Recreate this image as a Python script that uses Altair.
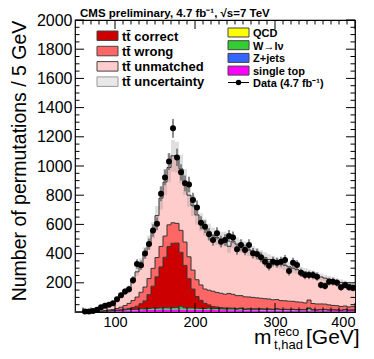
import altair as alt
import pandas as pd

# ---------------- data ----------------
bin_low = list(range(50, 400, 5))  # 70 bins of 5 GeV

single_top = [0, 0, 0, 1, 1, 2, 2, 3, 4,
              5, 6, 7, 8, 9, 10, 11, 12, 13, 14,
              15, 15, 16, 16, 16, 16, 16, 16, 16, 15, 15,
              15, 15, 14, 14, 14, 13, 13, 13, 12, 12, 12,
              12, 11, 11, 11, 11, 10, 10, 10, 10, 10, 10,
              9, 9, 9, 9, 9, 9, 8, 8, 8, 8, 8, 8, 8, 7, 7, 7, 7, 7]
z_jets = [0, 0, 0, 0, 0, 0, 1, 1, 1, 1,
          1, 2, 2, 2, 2, 2, 3, 2, 2, 3,
          2, 3, 3, 2, 3, 3, 2, 2, 3, 2,
          2, 2, 2, 3, 2, 2, 2, 1, 2, 2,
          2, 2, 1, 2, 2, 2, 1, 2, 2, 1,
          2, 1, 2, 2, 1, 2, 1, 1, 2, 1,
          1, 2, 1, 1, 1, 2, 1, 1, 1, 1]
w_jets = [0, 0, 0, 0, 1, 1, 1, 2, 2,
          2, 3, 3, 4, 4, 5, 5, 6, 6, 7, 8,
          8, 9, 10, 10, 11, 12, 20, 10, 9, 9, 8,
          8, 7, 9, 7, 8, 7, 6, 8, 7, 6, 9,
          6, 7, 5, 6, 8, 5, 6, 5, 7, 5, 6,
          5, 6, 4, 5, 5, 14, 5, 4, 5, 6, 4, 5, 4, 3, 6, 4, 5]
qcd = [0, 0, 0, 0, 0, 0, 0, 0, 0, 0,
       0, 0, 0, 1, 0, 0, 1, 0, 1, 1,
       1, 1, 1, 1, 1, 1, 1, 1, 1, 1,
       1, 0, 1, 1, 0, 1, 0, 1, 0, 1,
       0, 1, 0, 0, 1, 0, 0, 1, 0, 0,
       1, 0, 0, 0, 1, 0, 0, 0, 1, 0,
       0, 0, 1, 0, 0, 0, 0, 1, 0, 0]
tt_correct = [0, 0, 0, 0, 0, 0, 0, 1, 1, 1,
              2, 3, 5, 8, 14, 22, 35, 55, 95, 150,
              215, 280, 345, 420, 440, 440, 370, 290, 200, 130,
              80, 55, 35, 22, 14, 10, 8, 6, 5, 4,
              4, 3, 3, 3, 3, 3, 3, 3, 3, 3,
              3, 2, 2, 2, 2, 2, 2, 2, 2, 2,
              2, 2, 2, 2, 1, 2, 1, 2, 1, 1]
tt_wrong = [0, 0, 0, 1, 1, 2, 3, 4, 6, 8,
            12, 18, 25, 35, 48, 62, 78, 95, 110, 122,
            132, 140, 145, 148, 140, 135, 150, 160, 150, 130,
            115, 105, 98, 100, 105, 100, 98, 95, 100, 95,
            88, 85, 83, 80, 78, 75, 72, 70, 68, 65,
            62, 60, 58, 56, 54, 52, 50, 45, 55, 42,
            40, 38, 36, 34, 30, 28, 26, 24, 22, 24]
# top of the full stack (tt unmatched is the top layer)
mc_total = [0, 1, 2, 4, 8, 14, 24, 34, 45, 60,
            80, 105, 132, 165, 215, 275, 335, 405, 475, 560,
            660, 780, 890, 990, 1070, 1060, 980, 890, 800, 730,
            665, 615, 580, 550, 525, 510, 500, 500, 450, 485,
            465, 450, 440, 425, 410, 398, 385, 372, 360, 350,
            340, 330, 320, 310, 300, 290, 282, 274, 266, 258,
            250, 240, 232, 225, 218, 210, 203, 196, 188, 182]
tt_uncertainty = 0.10  # relative half-width of the hatched band

data_counts = [0, 0, 3, 3, 6, 15, 33, 42, 50, 60,
               88, 115, 140, 155, 218, 328, 320, 400, 465, 558,
               605, 810, 922, 1030, 1258, 1059, 957, 881, 874, 767,
               715, 612, 584, 532, 493, 539, 482, 493, 521, 511,
               429, 459, 425, 459, 402, 397, 375, 345, 317, 345,
               338, 345, 356, 281, 338, 322, 269, 253, 253, 253,
               242, 185, 178, 208, 208, 201, 169, 185, 169, 166]

x_labels = [100, 200, 300, 400]
x_minor = [60, 70, 80, 90, 110, 120, 130, 140, 150, 160, 170, 180, 190,
           210, 220, 230, 240, 250, 260, 270, 280, 290,
           310, 320, 330, 340, 350, 360, 370, 380, 390]
y_labels = [200, 400, 600, 800, 1000, 1200, 1400, 1600, 1800, 2000]
y_minor = [50, 100, 150, 250, 300, 350, 450, 500, 550, 650, 700, 750,
           850, 900, 950, 1050, 1100, 1150, 1250, 1300, 1350, 1450, 1500, 1550,
           1650, 1700, 1750, 1850, 1900, 1950]

FONT = "Liberation Sans"
W, H = 280, 292

comp_names = ["single top", "Z+jets", "W", "QCD", "tt correct", "tt wrong", "tt unmatched"]
comp_colors = ["#ff00ff", "#3366ff", "#33cc33", "#ffff00", "#cc0000", "#ff6666", "#ffcccc"]

# ---------------- build tables ----------------
n = len(bin_low)
rects, steps = [], []
cum = [0] * n
for name, vals in zip(comp_names[:-1], [single_top, z_jets, w_jets, qcd, tt_correct, tt_wrong]):
    new = [cum[i] + vals[i] for i in range(n)]
    for i in range(n):
        rects.append(dict(x0=bin_low[i], x1=bin_low[i] + 5, lo=cum[i], hi=new[i], comp=name))
    cum = new
    if name in ("QCD", "tt correct", "tt wrong"):
        for i in range(n):
            steps.append(dict(level=name, x=bin_low[i], y=cum[i]))
        steps.append(dict(level=name, x=400, y=cum[-1]))
top = [max(mc_total[i], cum[i]) for i in range(n)]
for i in range(n):
    rects.append(dict(x0=bin_low[i], x1=bin_low[i] + 5, lo=cum[i], hi=top[i], comp="tt unmatched"))
for i in range(n):
    steps.append(dict(level="total", x=bin_low[i], y=top[i]))
steps.append(dict(level="total", x=400, y=top[-1]))

rect_df = pd.DataFrame(rects)
step_df = pd.DataFrame(steps)
band_df = pd.DataFrame(dict(x0=bin_low, x1=[b + 5 for b in bin_low], t=top))
band_df = band_df[band_df.t > 0]
data_df = pd.DataFrame(dict(x=[b + 2.5 for b in bin_low], v=data_counts))
data_df = data_df[data_df.v > 0]

# ---------------- scales / axes ----------------
xs = alt.Scale(domain=[50, 400], nice=False, zero=False)
ys = alt.Scale(domain=[0, 2000], nice=False, zero=False)
xaxis = alt.Axis(values=x_labels, title=None, ticks=False, domain=False, grid=False, format="d",
                 labelFont=FONT, labelFontSize=14.5, labelPadding=3, labelColor="black")
yaxis = alt.Axis(values=y_labels, title=None, ticks=False, domain=False, grid=False, format="d",
                 labelFont=FONT, labelFontSize=16, labelPadding=3, labelColor="black")


def X(f):
    return alt.X(f, type="quantitative", scale=xs, axis=xaxis)


def Y(f):
    return alt.Y(f, type="quantitative", scale=ys, axis=yaxis)


layers = []
layers.append(alt.Chart(rect_df).mark_rect().encode(
    x=X("x0"), x2="x1", y=Y("lo"), y2="hi",
    color=alt.Color("comp:N", scale=alt.Scale(domain=comp_names, range=comp_colors), legend=None)))
layers.append(alt.Chart(band_df).transform_calculate(
    lo=f"datum.t*(1-{tt_uncertainty})", hi=f"datum.t*(1+{tt_uncertainty})"
).mark_rect(color="#8c8c8c", opacity=0.28).encode(x=X("x0"), x2="x1", y=Y("lo:Q"), y2="hi:Q"))
layers.append(alt.Chart(step_df).mark_line(interpolate="step-after", color="#333333", strokeWidth=1).encode(
    x=X("x"), y=Y("y"), detail="level:N"))
layers.append(alt.Chart(data_df).transform_calculate(
    lo="datum.v-1.8*sqrt(datum.v)", hi="datum.v+1.8*sqrt(datum.v)"
).mark_rule(color="#666666", strokeWidth=1.5).encode(x=X("x"), y=Y("lo:Q"), y2="hi:Q"))
layers.append(alt.Chart(data_df).mark_circle(color="black", size=36, opacity=1).encode(
    x=X("x"), y=Y("v")))

# ticks (inward, both sides)
xt_major = pd.DataFrame(dict(t=x_labels))
xt_minor = pd.DataFrame(dict(t=x_minor))
yt_major = pd.DataFrame(dict(t=y_labels))
yt_minor = pd.DataFrame(dict(t=y_minor))
for df, ln in ((xt_major, 9), (xt_minor, 4.5)):
    layers.append(alt.Chart(df).mark_rule(color="black", strokeWidth=1).encode(
        x=X("t"), y=alt.value(H), y2=alt.value(H - ln)))
    layers.append(alt.Chart(df).mark_rule(color="black", strokeWidth=1).encode(
        x=X("t"), y=alt.value(0), y2=alt.value(ln)))
for df, ln in ((yt_major, 9), (yt_minor, 4.5)):
    layers.append(alt.Chart(df).mark_rule(color="black", strokeWidth=1).encode(
        y=Y("t"), x=alt.value(0), x2=alt.value(ln)))
    layers.append(alt.Chart(df).mark_rule(color="black", strokeWidth=1).encode(
        y=Y("t"), x=alt.value(W), x2=alt.value(W - ln)))

one = pd.DataFrame(dict(k=[0]))


def text(s, x, y, size, bold=False, angle=0, align="left", baseline="alphabetic", color="black"):
    kw = dict(font=FONT, fontSize=size, align=align, baseline=baseline, color=color)
    if bold:
        kw["fontWeight"] = "bold"
    if angle:
        kw["angle"] = angle
    return alt.Chart(one).mark_text(**kw).encode(x=alt.value(x), y=alt.value(y), text=alt.value(s))


def box(x, y, w, h, fill, stroke="#444444"):
    return alt.Chart(one).mark_rect(fill=fill, stroke=stroke, strokeWidth=1).encode(
        x=alt.value(x), x2=alt.value(x + w), y=alt.value(y), y2=alt.value(y + h))


# title and axis titles
layers.append(text("CMS preliminary, 4.7 fb\u207b\u00b9, \u221as=7 TeV", 5, -3, 11.5, bold=True))
layers.append(text("Number of permutations / 5 GeV", -55, 141, 19.5, angle=270, align="center", baseline="middle"))
layers.append(text("m", 179, 324, 21))
layers.append(text("reco", 199, 316, 13))
layers.append(text("t,had", 199, 329, 13))
layers.append(text("[GeV]", 231, 324, 21))

# legend, left column
left_items = [("tt\u0304 correct", "#cc0000"), ("tt\u0304 wrong", "#ff6666"),
              ("tt\u0304 unmatched", "#ffcccc"), ("tt\u0304 uncertainty", "#e8e8e8")]
for i, (lab, col) in enumerate(left_items):
    y0 = 11 + i * 15.3
    layers.append(box(22, y0, 21, 9.5, col, stroke="#999999" if i == 3 else "#444444"))
    layers.append(text(lab, 47, y0 + 9.5, 13, bold=True))

# legend, right column
right_items = [("QCD", "#ffff00"), ("W\u2192l\u03bd", "#33cc33"), ("Z+jets", "#3366ff"),
               ("single top", "#ff00ff")]
for i, (lab, col) in enumerate(right_items):
    y0 = 8 + i * 12.7
    layers.append(box(153, y0, 21, 9, col))
    layers.append(text(lab, 178, y0 + 9, 11, bold=True))
layers.append(alt.Chart(one).mark_rule(color="black", strokeWidth=1).encode(
    x=alt.value(153), x2=alt.value(174), y=alt.value(62.5)))
layers.append(alt.Chart(one).mark_circle(color="black", size=30, opacity=1).encode(
    x=alt.value(163.5), y=alt.value(62.5)))
layers.append(text("Data (4.7 fb\u207b\u00b9)", 178, 67, 11, bold=True))

chart = alt.layer(*layers).properties(
    width=W, height=H,
    autosize=alt.AutoSizeParams(type="none"),
    padding={"left": 67, "top": 12, "right": 11, "bottom": 39},
).configure_view(stroke="black", strokeWidth=1.2)

chart.save("out.html", embed_options={"renderer": "svg", "actions": False})
